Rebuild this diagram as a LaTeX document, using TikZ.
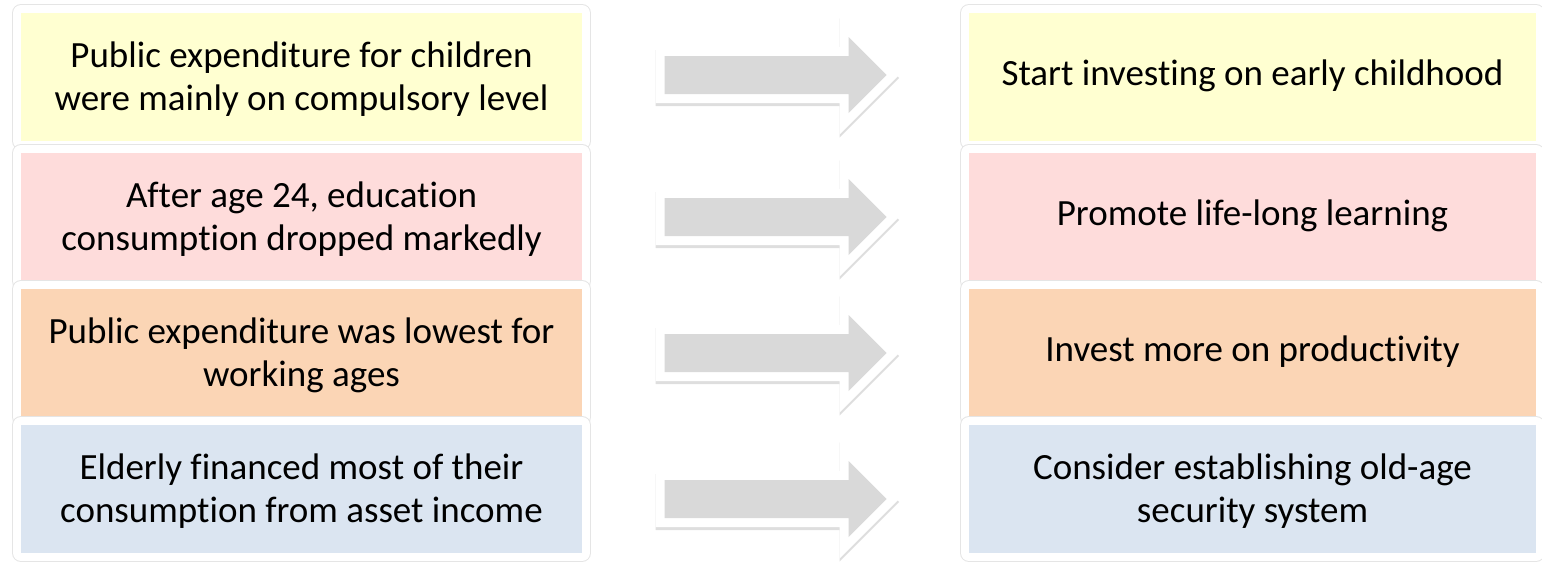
\documentclass[tikz,border=0pt]{standalone}
\usepackage{fontspec}
\setmainfont{Carlito}[Ligatures=NoCommon]
\usetikzlibrary{positioning,calc}

\definecolor{rowyellow}{HTML}{FFFFD1}
\definecolor{rowpink}{HTML}{FEDCDB}
\definecolor{rowpeach}{HTML}{FBD5B5}
\definecolor{rowblue}{HTML}{DBE5F1}
\definecolor{arrowgray}{HTML}{D9D9D9}

\begin{document}
\begin{tikzpicture}[
    x=1pt,y=-1pt,
    node distance=8pt and 387pt,
    box/.style={rectangle,inner sep=0pt,outer sep=0pt,
                minimum width=561pt,minimum height=128pt,align=center,
                font=\fontsize{37}{43}\selectfont,
                preaction={draw=black!10,line width=18pt,line join=round},
                preaction={draw=white,line width=16pt,line join=round}},
    wide/.style={minimum width=567pt},
    blockarrow/.style={fill=arrowgray,
                preaction={draw=white,line width=18pt,line join=miter}},
    arrowshadow/.style={draw=black!13,fill=black!13,line width=18pt,line join=miter}
  ]
    \useasboundingbox (0,0) rectangle (1542,562);

    % findings
    \node[box,fill=rowyellow] (L1) at (301.5,77)
      {\strut Public expenditure for children\\were mainly on compulsory level};
    \node[box,fill=rowpink,below=12pt of L1] (L2)
      {\strut After age 24, education\\consumption dropped markedly};
    \node[box,fill=rowpeach,below=of L2] (L3)
      {\strut Public expenditure was lowest for\\working ages};
    \node[box,fill=rowblue,below=of L3] (L4)
      {\strut Elderly financed most of their\\consumption from asset income};

    % policy responses
    \node[box,wide,fill=rowyellow,right=of L1] (R1) {\strut Start investing on early childhood};
    \node[box,wide,fill=rowpink,right=of L2] (R2) {\strut Promote life-long learning};
    \node[box,wide,fill=rowpeach,right=of L3] (R3) {\strut Invest more on productivity};
    \node[box,wide,fill=rowblue,right=of L4] (R4)
      {\strut Consider establishing old-age\\security system};

    % block arrows between the columns
    \foreach \k/\dy in {1/-2,2/0,3/0,4/10}{
      \coordinate (m\k) at ($(L\k.east)!0.5!(R\k.west)+(0,\dy)$);
      \coordinate (s\k) at ($(m\k)+(0,3)$);
      \draw[arrowshadow,shift={(s\k)}] (-111,-19) -- (73,-19) -- (73,-38)
        -- (111,0) -- (73,38) -- (73,19) -- (-111,19) -- cycle;
      \path[blockarrow,shift={(m\k)}] (-111,-19) -- (73,-19) -- (73,-38)
        -- (111,0) -- (73,38) -- (73,19) -- (-111,19) -- cycle;
    }
  \end{tikzpicture}
\end{document}
